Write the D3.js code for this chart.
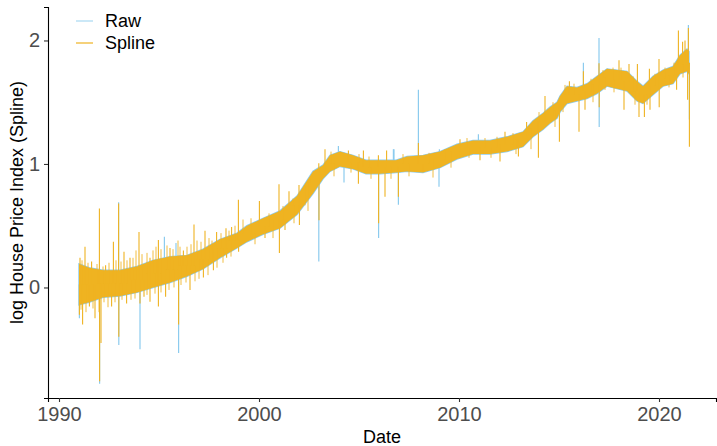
<!DOCTYPE html>
<html>
<head>
<meta charset="utf-8">
<script src="https://cdn.jsdelivr.net/npm/d3@7"></script>
<style>
  body { margin: 0; background: #fff; }
  svg { display: block; font-family: "Liberation Sans", Arial, sans-serif; }
</style>
</head>
<body>
<svg id="chart" width="717" height="446"></svg>
<script>
// Dense band of the series (both Raw and Spline overlap almost exactly)
const bandYears = [1991.0, 1991.5, 1992.2, 1993.05, 1993.9, 1994.7, 1995.55, 1996.4, 1997.2, 1998.05,
  1998.9, 1999.4, 2000.2, 2001.05, 2001.9, 2002.7, 2003.2, 2003.55, 2004.05, 2004.7,
  2005.35, 2006.05, 2006.85, 2007.4, 2008.2, 2009.05, 2009.9, 2010.7, 2011.55, 2012.4,
  2013.2, 2013.7, 2014.2, 2014.55, 2014.9, 2015.05, 2015.4, 2015.9, 2016.4, 2016.9,
  2017.4, 2017.9, 2018.4, 2018.9, 2019.2, 2019.7, 2020.2, 2020.7, 2021.05, 2021.4, 2021.5];
const bandLo = [-0.14, -0.12, -0.08, -0.07, -0.04, 0.00, 0.04, 0.09, 0.15, 0.24,
  0.32, 0.37, 0.43, 0.48, 0.59, 0.76, 0.88, 0.94, 0.98, 0.96,
  0.92, 0.92, 0.93, 0.94, 0.93, 0.97, 1.04, 1.08, 1.08, 1.10,
  1.14, 1.22, 1.28, 1.33, 1.37, 1.42, 1.49, 1.51, 1.53, 1.57,
  1.63, 1.61, 1.59, 1.51, 1.49, 1.56, 1.63, 1.65, 1.73, 1.75, 1.73];
const bandHi = [0.19, 0.16, 0.14, 0.14, 0.17, 0.22, 0.25, 0.26, 0.31, 0.39,
  0.44, 0.50, 0.56, 0.62, 0.74, 0.94, 0.99, 1.07, 1.10, 1.07,
  1.03, 1.03, 1.03, 1.06, 1.07, 1.10, 1.16, 1.19, 1.19, 1.22,
  1.26, 1.35, 1.41, 1.46, 1.50, 1.55, 1.63, 1.62, 1.65, 1.71,
  1.77, 1.76, 1.75, 1.67, 1.63, 1.71, 1.76, 1.79, 1.88, 1.93, 1.91];

// Spikes [year, value]
const splineSpikes = [
  [1991.05, 0.24], [1991.3, 0.33], [1991.63, 0.21], [1992.02, 0.64], [1992.33, 0.18], [1992.72, 0.37],
  [1992.98, 0.68], [1993.25, 0.29], [1993.55, 0.24], [1994.0, 0.45], [1994.55, 0.24], [1994.97, 0.385],
  [1995.55, 0.32], [1996.22, 0.30], [1996.75, 0.51], [1997.3, 0.46], [1997.88, 0.45], [1998.35, 0.48],
  [1998.63, 0.49], [1998.97, 0.71],
  [1991.02, -0.22], [1991.18, -0.30], [1991.52, -0.155], [1991.8, -0.25], [1992.03, -0.76], [1992.1, -0.45],
  [1992.63, -0.155], [1992.99, -0.40], [1993.38, -0.13], [1994.05, -0.13], [1994.25, -0.075], [1994.55, -0.115],
  [1994.97, -0.155], [1995.33, -0.075], [1995.98, -0.30], [1996.55, -0.02], [1997.22, 0.08], [1997.72, 0.14],
  [1998.38, 0.24], [1998.98, 0.29],
  [2000.02, 0.70], [2001.0, 0.835], [2001.5, 0.78], [2002.0, 0.83], [2002.99, 1.005], [2003.3, 1.12],
  [2004.47, 1.11], [2005.22, 1.11], [2005.97, 1.07], [2006.38, 1.11],
  [2000.3, 0.40], [2001.02, 0.28], [2001.3, 0.465], [2002.02, 0.505], [2003.0, 0.545], [2004.97, 0.84],
  [2005.98, 0.52], [2006.3, 0.735], [2006.97, 0.735],
  [2007.97, 1.17], [2010.05, 1.20], [2012.3, 1.26], [2013.38, 1.34], [2014.3, 1.55],
  [2008.22, 0.94], [2011.05, 1.03], [2012.05, 1.02], [2012.97, 1.06], [2013.97, 1.05], [2015.02, 1.18],
  [2015.52, 1.67], [2016.22, 1.75], [2017.0, 1.816], [2018.0, 1.84], [2018.5, 1.81], [2018.92, 1.81],
  [2019.52, 1.77], [2020.0, 1.85], [2020.97, 2.08], [2021.18, 1.99], [2021.3, 2.0], [2021.47, 2.10],
  [2016.0, 1.26], [2016.3, 1.44], [2017.01, 1.46], [2018.25, 1.44], [2019.0, 1.38], [2019.27, 1.38],
  [2019.55, 1.44], [2020.01, 1.46], [2020.88, 1.60], [2021.43, 1.52], [2021.52, 1.14]
];
// Short hairs along the band edges [year, value]
const splineHairs = [
  [1991.15, 0.22], [1991.45, 0.20], [1991.9, 0.19], [1992.2, 0.17], [1992.5, 0.20], [1992.85, 0.22],
  [1993.1, 0.21], [1993.4, 0.22], [1993.7, 0.24], [1993.85, 0.30], [1994.15, 0.27], [1994.4, 0.28],
  [1994.7, 0.30], [1994.85, 0.33], [1995.1, 0.31], [1995.4, 0.34], [1995.7, 0.31], [1995.95, 0.38],
  [1996.05, 0.33], [1996.4, 0.33], [1996.6, 0.35], [1996.9, 0.38], [1997.1, 0.37], [1997.5, 0.40],
  [1997.65, 0.38], [1998.1, 0.44], [1998.5, 0.46], [1998.8, 0.50],
  [1991.1, -0.18], [1991.35, -0.20], [1991.7, -0.17], [1992.0, -0.20], [1992.25, -0.12], [1992.45, -0.16],
  [1992.8, -0.12], [1993.15, -0.10], [1993.6, -0.10], [1993.8, -0.09], [1994.4, -0.06], [1994.8, -0.05],
  [1995.1, -0.04], [1995.5, -0.02], [1995.75, 0.00], [1996.1, 0.02], [1996.35, 0.04], [1996.8, 0.05],
  [1997.0, 0.07], [1997.45, 0.10], [1997.9, 0.16], [1998.2, 0.20], [1998.6, 0.25],
  [1999.2, 0.55], [1999.6, 0.56], [1999.8, 0.35], [2000.5, 0.60], [2000.7, 0.40], [2001.2, 0.66],
  [2001.7, 0.72], [2001.75, 0.52], [2002.3, 0.82], [2002.45, 0.62], [2002.55, 0.88], [2003.6, 1.10],
  [2003.75, 0.90], [2004.6, 0.93], [2005.0, 1.08], [2005.5, 1.06], [2005.6, 0.88], [2006.6, 0.88],
  [2007.2, 1.08], [2007.5, 0.90], [2008.5, 1.09], [2008.7, 0.89], [2009.3, 1.12], [2009.6, 0.97],
  [2010.4, 1.21], [2010.5, 1.05], [2011.3, 1.21], [2011.6, 1.05], [2011.9, 1.22], [2012.7, 1.25],
  [2012.85, 1.08], [2013.5, 1.30], [2013.6, 1.12], [2014.0, 1.42], [2014.7, 1.50], [2014.8, 1.30],
  [2015.3, 1.64], [2015.2, 1.42], [2015.75, 1.65], [2016.6, 1.69], [2016.7, 1.50], [2017.2, 1.76],
  [2017.3, 1.60], [2017.7, 1.78], [2017.75, 1.58], [2018.1, 1.78], [2018.7, 1.71], [2018.8, 1.48],
  [2019.4, 1.48], [2019.8, 1.73], [2020.3, 1.78], [2020.5, 1.62], [2020.75, 1.82], [2021.2, 1.70]
];
const rawSpikes = [
  [1991.02, -0.25], [1992.03, -0.78], [1992.98, 0.69], [1992.99, -0.465], [1994.05, -0.50], [1995.27, 0.41],
  [1995.85, 0.36], [1995.98, -0.53], [2002.99, 0.21], [2003.97, 1.145], [2004.25, 0.85], [2005.98, 0.40],
  [2006.72, 1.12], [2006.97, 0.67], [2006.75, 1.12], [2007.97, 1.60], [2009.02, 1.12], [2009.0, 0.816],
  [2010.97, 1.24], [2016.22, 1.82], [2017.0, 2.02], [2017.01, 1.30], [2021.47, 2.125], [2021.52, 1.36]
];

const xTicks = [1990, 2000, 2010, 2020];
const yTicks = [0, 1, 2];
const seriesNames = ["Raw", "Spline"];
const seriesColors = ["#8ccbee", "#efb321"];

const svg = d3.select("#chart");
const margin = { left: 48, right: 716, top: 7, bottom: 398 };

const x = d3.scaleLinear().domain([1989.45, 2022.85]).range([margin.left, margin.right]);
const y = d3.scaleLinear().domain([-0.895, 2.271]).range([margin.bottom, margin.top]);

const band = bandYears.map((yr, i) => ({ year: yr, lo: bandLo[i], hi: bandHi[i] }));
const bisect = d3.bisector(d => d.year).center;
const baseOf = yr => { const b = band[bisect(band, yr)]; return (b.lo + b.hi) / 2; };

const area = d3.area()
  .x(d => x(d.year))
  .y0(d => y(d.lo))
  .y1(d => y(d.hi));

function drawSpikes(data, color, width, opacity) {
  svg.append("g").selectAll("line")
    .data(data)
    .enter().append("line")
    .attr("x1", d => x(d[0])).attr("x2", d => x(d[0]))
    .attr("y1", d => y(baseOf(d[0]))).attr("y2", d => y(d[1]))
    .attr("stroke", color)
    .attr("stroke-width", width)
    .attr("stroke-opacity", opacity);
}

// Raw series (behind)
svg.append("path")
  .datum(band)
  .attr("d", area)
  .attr("fill", seriesColors[0])
  .attr("stroke", seriesColors[0])
  .attr("stroke-width", 1.4);
drawSpikes(rawSpikes, seriesColors[0], 1.2, 1);

// Spline series (front)
svg.append("path")
  .datum(band)
  .attr("d", area)
  .attr("fill", seriesColors[1]);
drawSpikes(splineHairs, seriesColors[1], 1, 0.85);
drawSpikes(splineSpikes, seriesColors[1], 1.1, 1);

// Axes
const xAxis = svg.append("g")
  .attr("transform", `translate(0,${margin.bottom})`)
  .call(d3.axisBottom(x).tickValues(xTicks).tickFormat(d3.format("d")).tickSize(4).tickPadding(5));
const yAxis = svg.append("g")
  .attr("transform", `translate(${margin.left},0)`)
  .call(d3.axisLeft(y).tickValues(yTicks).tickFormat(d3.format("d")).tickSize(4).tickPadding(4));

[xAxis, yAxis].forEach(a => {
  a.select(".domain").attr("stroke", "#000").attr("stroke-width", 1.1);
  a.selectAll(".tick line").attr("stroke", "#333").attr("stroke-width", 1.1);
  a.selectAll(".tick text")
    .attr("fill", "#4d4d4d")
    .style("font-size", "20px")
    .style("font-family", "Liberation Sans, Arial, sans-serif");
});

svg.append("text")
  .attr("x", (margin.left + margin.right) / 2)
  .attr("y", 443)
  .attr("text-anchor", "middle")
  .style("font-size", "18px")
  .attr("fill", "#000")
  .text("Date");

svg.append("text")
  .attr("transform", `translate(23,${(margin.top + margin.bottom) / 2}) rotate(-90)`)
  .attr("text-anchor", "middle")
  .style("font-size", "18px")
  .attr("fill", "#000")
  .text("log House Price Index (Spline)");

// Legend
const legend = svg.append("g").selectAll("g")
  .data(seriesNames)
  .enter().append("g")
  .attr("transform", (d, i) => `translate(76,${21 + i * 22})`);

legend.append("line")
  .attr("x1", 0).attr("x2", 17)
  .attr("stroke", (d, i) => i === 0 ? "#a9d9f2" : seriesColors[1])
  .attr("stroke-width", 1.2);

legend.append("text")
  .attr("x", 29)
  .attr("dy", "0.35em")
  .style("font-size", "18px")
  .attr("fill", "#000")
  .text(d => d);
</script>
</body>
</html>
